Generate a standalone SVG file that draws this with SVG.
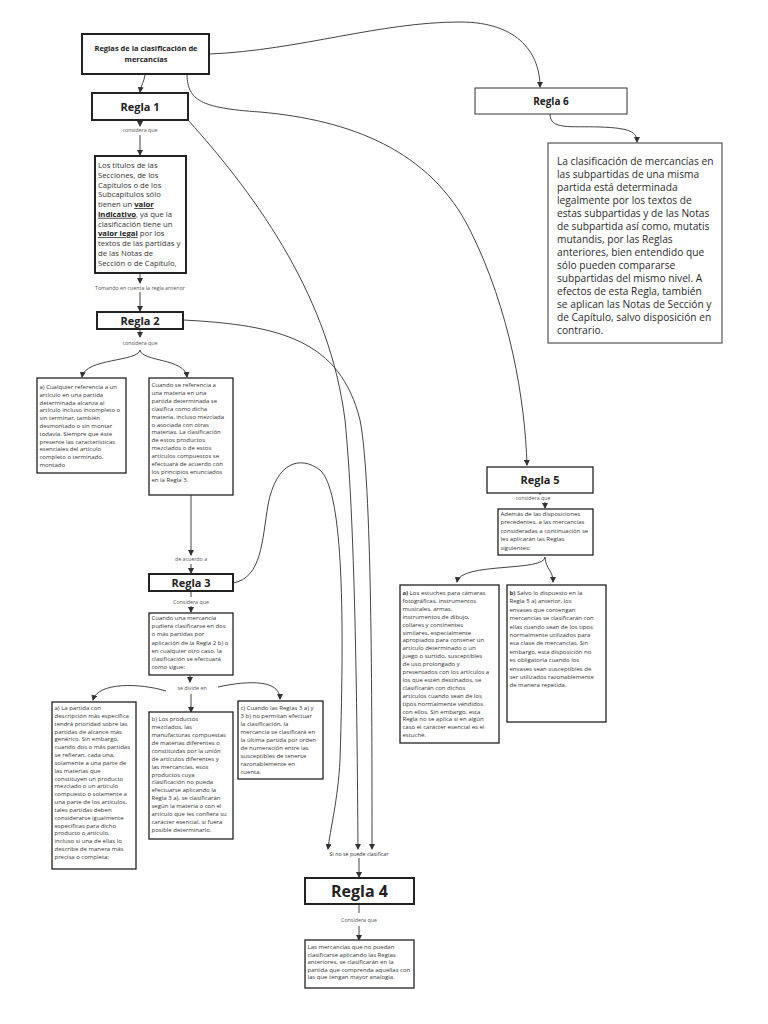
<svg xmlns="http://www.w3.org/2000/svg" width="768" height="1024" viewBox="0 0 768 1024">
<style>
.bg{fill:#fff}
.box{fill:#fff;stroke:#222;stroke-width:1.3}
.thick{stroke-width:2}
.thin{stroke:#333;stroke-width:1}
.t{font-family:"Open Sans","Noto Sans","DejaVu Sans",sans-serif;font-size:6px;fill:#333}
.m{font-size:7.7px}
.l{font-size:10.2px;fill:#2a2a2a}
.lbl{font-family:"Open Sans","Noto Sans","DejaVu Sans",sans-serif;font-size:5.3px;fill:#555;text-anchor:middle}
.rule{font-family:"Open Sans","Noto Sans","DejaVu Sans",sans-serif;font-weight:bold;text-anchor:middle;fill:#222}
.conn{fill:none;stroke:#444;stroke-width:1}
.b{font-weight:bold}
.u{font-weight:bold;text-decoration:underline;fill:#222}
</style>
<defs>
<marker id="ah" markerWidth="6" markerHeight="6" refX="5" refY="3" orient="auto" markerUnits="userSpaceOnUse">
<path d="M0,0 L6,3 L0,6 Z" fill="#333"/>
</marker>
</defs>
<rect class="bg" width="768" height="1024"/>

<g id="connectors">
<path class="conn" marker-end="url(#ah)" d="M145,75 C144,82 141,85 140,92"/>
<path class="conn" marker-end="url(#ah)" d="M210,54 C300,50 380,22 460,22 C520,22 540,55 540,87"/>
<path class="conn" marker-end="url(#ah)" d="M187,75 C188,100 200,108 260,112 C350,120 430,150 470,230 C510,310 525,400 527,465"/>
<path class="conn" marker-end="url(#ah)" d="M188,120 C260,200 330,300 345,420 C355,520 357,700 358,849"/>
<path class="conn" marker-end="url(#ah)" d="M183,320 C280,325 340,340 360,420 C372,480 372,700 372,849"/>
<path class="conn" marker-end="url(#ah)" d="M233,583 C262,578 262,540 268,505 C276,462 300,455 320,470 C342,490 345,600 340,760 C338,800 330,830 328,849"/>
<path class="conn" marker-end="url(#ah)" d="M550,114 C550,130 570,126 600,127 C630,128 637,132 637,142"/>
<path class="conn" marker-end="url(#ah)" d="M140,120 L140,126"/>
<path class="conn" marker-end="url(#ah)" d="M140,135 L140,155"/>
<path class="conn" marker-end="url(#ah)" d="M140,273 L140,283"/>
<path class="conn" marker-end="url(#ah)" d="M140,292 L140,311"/>
<path class="conn" marker-end="url(#ah)" d="M140,330 L140,337"/>
<path class="conn" marker-end="url(#ah)" d="M140,350 C138,362 85,358 82,377"/>
<path class="conn" marker-end="url(#ah)" d="M140,350 C142,362 185,358 187,377"/>
<path class="conn" marker-end="url(#ah)" d="M191,495 L191,555"/>
<path class="conn" marker-end="url(#ah)" d="M191,564 L191,573"/>
<path class="conn" d="M191,592 L191,597"/>
<path class="conn" marker-end="url(#ah)" d="M191,606 L191,612"/>
<path class="conn" marker-end="url(#ah)" d="M190,675 L190,682"/>
<path class="conn" marker-end="url(#ah)" d="M166,691 C140,683 98,682 93,700"/>
<path class="conn" marker-end="url(#ah)" d="M218,687 C250,680 280,680 280,699"/>
<path class="conn" marker-end="url(#ah)" d="M191,694 L191,712"/>
<path class="conn" marker-end="url(#ah)" d="M359,858 L359,877"/>
<path class="conn" d="M359,904 L359,913"/>
<path class="conn" marker-end="url(#ah)" d="M359,926 L359,940"/>
<path class="conn" d="M540,493 L540,495"/>
<path class="conn" marker-end="url(#ah)" d="M545,502 L545,508"/>
<path class="conn" marker-end="url(#ah)" d="M545,557 C545,572 460,562 457,582"/>
<path class="conn" marker-end="url(#ah)" d="M545,557 C546,570 553,570 553,582"/>
</g>

<g id="title">
<rect class="box thick" x="82" y="34" width="127" height="40"/>
<text class="rule" font-size="7.5" x="146" y="51">Reglas de la clasificación de</text>
<text class="rule" font-size="7.5" x="146" y="61.5">mercancías</text>
</g>

<g id="regla1">
<rect class="box thick" x="92" y="93" width="96" height="27"/>
<text class="rule" font-size="11" x="140" y="110.5">Regla 1</text>
<text class="lbl" x="140" y="132">considera que</text>
</g>

<g id="regla1-texto">
<rect class="box thick" x="95" y="156" width="91" height="117"/>
<text class="t m">
<tspan x="98" y="168">Los títulos de las</tspan>
<tspan x="98" y="177.8">Secciones, de los</tspan>
<tspan x="98" y="187.5">Capítulos o de los</tspan>
<tspan x="98" y="197.3">Subcapítulos sólo</tspan>
<tspan x="98" y="207">tienen un <tspan class="u">valor</tspan></tspan>
<tspan x="98" y="216.8"><tspan class="u">indicativo</tspan>, ya que la</tspan>
<tspan x="98" y="226.5">clasificación tiene un</tspan>
<tspan x="98" y="236.3"><tspan class="u">valor legal</tspan> por los</tspan>
<tspan x="98" y="246">textos de las partidas y</tspan>
<tspan x="98" y="255.8">de las Notas de</tspan>
<tspan x="98" y="265.5">Sección o de Capítulo,</tspan>
</text>
<text class="lbl" x="140" y="290">Tomando en cuenta la regla anterior</text>
</g>

<g id="regla2">
<rect class="box thick" x="97" y="312" width="86" height="17"/>
<text class="rule" font-size="11" x="140" y="324.5">Regla 2</text>
<text class="lbl" x="140" y="345">considera que</text>
</g>

<g id="regla2-a">
<rect class="box" x="37" y="378" width="89" height="95"/>
<text class="t">
<tspan x="39.5" y="389">a) Cualquier referencia a un</tspan>
<tspan x="39.5" y="396.8">artículo en una partida</tspan>
<tspan x="39.5" y="404.6">determinada alcanza al</tspan>
<tspan x="39.5" y="412.4">artículo incluso incompleto o</tspan>
<tspan x="39.5" y="420.2">sin terminar, también</tspan>
<tspan x="39.5" y="428">desmontado o sin montar</tspan>
<tspan x="39.5" y="435.8">todavía. Siempre que éste</tspan>
<tspan x="39.5" y="443.6">presente las características</tspan>
<tspan x="39.5" y="451.4">esenciales del artículo</tspan>
<tspan x="39.5" y="459.2">completo o terminado,</tspan>
<tspan x="39.5" y="467">montado</tspan>
</text>
</g>

<g id="regla2-b">
<rect class="box" x="149" y="378" width="84" height="117"/>
<text class="t">
<tspan x="151.5" y="387">Cuando se referencia a</tspan>
<tspan x="151.5" y="394.9">una materia en una</tspan>
<tspan x="151.5" y="402.8">partida determinada se</tspan>
<tspan x="151.5" y="410.7">clasifica como dicha</tspan>
<tspan x="151.5" y="418.6">materia, incluso mezclada</tspan>
<tspan x="151.5" y="426.5">o asociada con otras</tspan>
<tspan x="151.5" y="434.4">materias. La clasificación</tspan>
<tspan x="151.5" y="442.3">de estos productos</tspan>
<tspan x="151.5" y="450.2">mezclados o de estos</tspan>
<tspan x="151.5" y="458.1">artículos compuestos se</tspan>
<tspan x="151.5" y="466">efectuará de acuerdo con</tspan>
<tspan x="151.5" y="473.9">los principios enunciados</tspan>
<tspan x="151.5" y="481.8">en la Regla 3.</tspan>
</text>
<text class="lbl" x="191" y="561">de acuerdo a</text>
</g>

<g id="regla3">
<rect class="box thick" x="149" y="574" width="84" height="17"/>
<text class="rule" font-size="11" x="191" y="586.5">Regla 3</text>
<text class="lbl" x="191" y="604">Considera que</text>
</g>

<g id="regla3-texto">
<rect class="box" x="149" y="613" width="84" height="62"/>
<text class="t">
<tspan x="151.5" y="620">Cuando una mercancía</tspan>
<tspan x="151.5" y="628.2">pudiera clasificarse en dos</tspan>
<tspan x="151.5" y="636.4">o más partidas por</tspan>
<tspan x="151.5" y="644.6">aplicación de la Regla 2 b) o</tspan>
<tspan x="151.5" y="652.8">en cualquier otro caso, la</tspan>
<tspan x="151.5" y="661">clasificación se efectuará</tspan>
<tspan x="151.5" y="669.2">como sigue:</tspan>
</text>
<text class="lbl" x="192" y="690">se divide en</text>
</g>

<g id="regla3-a">
<rect class="box" x="52" y="702" width="84" height="167"/>
<text class="t">
<tspan x="54.5" y="710">a) La partida con</tspan>
<tspan x="54.5" y="717.8">descripción más específica</tspan>
<tspan x="54.5" y="725.7">tendrá prioridad sobre las</tspan>
<tspan x="54.5" y="733.5">partidas de alcance más</tspan>
<tspan x="54.5" y="741.4">genérico. Sin embargo,</tspan>
<tspan x="54.5" y="749.2">cuando dos o más partidas</tspan>
<tspan x="54.5" y="757">se refieran, cada una,</tspan>
<tspan x="54.5" y="764.9">solamente a una parte de</tspan>
<tspan x="54.5" y="772.7">las materias que</tspan>
<tspan x="54.5" y="780.6">constituyen un producto</tspan>
<tspan x="54.5" y="788.4">mezclado o un artículo</tspan>
<tspan x="54.5" y="796.2">compuesto o solamente a</tspan>
<tspan x="54.5" y="804.1">una parte de los artículos,</tspan>
<tspan x="54.5" y="811.9">tales partidas deben</tspan>
<tspan x="54.5" y="819.8">considerarse igualmente</tspan>
<tspan x="54.5" y="827.6">específicas para dicho</tspan>
<tspan x="54.5" y="835.4">producto o artículo,</tspan>
<tspan x="54.5" y="843.3">incluso si una de ellas lo</tspan>
<tspan x="54.5" y="851.1">describe de manera más</tspan>
<tspan x="54.5" y="859">precisa o completa;</tspan>
</text>
</g>

<g id="regla3-b">
<rect class="box" x="149" y="712" width="84" height="127"/>
<text class="t">
<tspan x="151.5" y="721">b) Los productos</tspan>
<tspan x="151.5" y="728.9">mezclados, las</tspan>
<tspan x="151.5" y="736.9">manufacturas compuestas</tspan>
<tspan x="151.5" y="744.8">de materias diferentes o</tspan>
<tspan x="151.5" y="752.7">constituidas por la unión</tspan>
<tspan x="151.5" y="760.7">de artículos diferentes y</tspan>
<tspan x="151.5" y="768.6">las mercancías, esos</tspan>
<tspan x="151.5" y="776.5">productos cuya</tspan>
<tspan x="151.5" y="784.4">clasificación no pueda</tspan>
<tspan x="151.5" y="792.4">efectuarse aplicando la</tspan>
<tspan x="151.5" y="800.3">Regla 3 a), se clasificarán</tspan>
<tspan x="151.5" y="808.2">según la materia o con el</tspan>
<tspan x="151.5" y="816.2">artículo que les confiera su</tspan>
<tspan x="151.5" y="824.1">carácter esencial, si fuera</tspan>
<tspan x="151.5" y="832">posible determinarlo.</tspan>
</text>
</g>

<g id="regla3-c">
<rect class="box" x="238" y="701" width="85" height="78"/>
<text class="t">
<tspan x="240.5" y="710">c) Cuando las Reglas 3 a) y</tspan>
<tspan x="240.5" y="718">3 b) no permitan efectuar</tspan>
<tspan x="240.5" y="726">la clasificación, la</tspan>
<tspan x="240.5" y="734">mercancía se clasificará en</tspan>
<tspan x="240.5" y="742">la última partida por orden</tspan>
<tspan x="240.5" y="750">de numeración entre las</tspan>
<tspan x="240.5" y="758">susceptibles de tenerse</tspan>
<tspan x="240.5" y="766">razonablemente en</tspan>
<tspan x="240.5" y="774">cuenta.</tspan>
</text>
</g>

<g id="regla4">
<text class="lbl" x="359" y="856" style="fill:#333">Si no se puede clasificar</text>
<rect class="box thick" x="305" y="878" width="109" height="26"/>
<text class="rule" font-size="16" x="359.5" y="897">Regla 4</text>
<text class="lbl" x="359" y="922">Considera que</text>
</g>

<g id="regla4-texto">
<rect class="box" x="305" y="940" width="109" height="48"/>
<text class="t">
<tspan x="307.5" y="949">Las mercancías que no puedan</tspan>
<tspan x="307.5" y="956.5">clasificarse aplicando las Reglas</tspan>
<tspan x="307.5" y="964">anteriores, se clasificarán en la</tspan>
<tspan x="307.5" y="971.5">partida que comprenda aquellas con</tspan>
<tspan x="307.5" y="979">las que tengan mayor analogía.</tspan>
</text>
</g>

<g id="regla5">
<rect class="box" x="487" y="467" width="106" height="26"/>
<text class="rule" font-size="11" x="540" y="484">Regla 5</text>
<text class="lbl" x="533" y="500">considera que</text>
</g>

<g id="regla5-texto">
<rect class="box" x="498" y="509" width="95" height="46"/>
<text class="t">
<tspan x="500.5" y="515.5">Además de las disposiciones</tspan>
<tspan x="500.5" y="524">precedentes, a las mercancías</tspan>
<tspan x="500.5" y="532.5">consideradas a continuación se</tspan>
<tspan x="500.5" y="541">les aplicarán las Reglas</tspan>
<tspan x="500.5" y="549.5">siguientes:</tspan>
</text>
</g>

<g id="regla5-a">
<rect class="box" x="400" y="585" width="99" height="158"/>
<text class="t">
<tspan x="402.5" y="595"><tspan class="b">a)</tspan> Los estuches para cámaras</tspan>
<tspan x="402.5" y="602.9">fotográficas, instrumentos</tspan>
<tspan x="402.5" y="610.8">musicales, armas,</tspan>
<tspan x="402.5" y="618.7">instrumentos de dibujo,</tspan>
<tspan x="402.5" y="626.6">collares y continentes</tspan>
<tspan x="402.5" y="634.5">similares, especialmente</tspan>
<tspan x="402.5" y="642.4">apropiados para contener un</tspan>
<tspan x="402.5" y="650.3">artículo determinado o un</tspan>
<tspan x="402.5" y="658.2">juego o surtido, susceptibles</tspan>
<tspan x="402.5" y="666.1">de uso prolongado y</tspan>
<tspan x="402.5" y="674">presentados con los artículos a</tspan>
<tspan x="402.5" y="681.9">los que estén destinados, se</tspan>
<tspan x="402.5" y="689.8">clasificarán con dichos</tspan>
<tspan x="402.5" y="697.7">artículos cuando sean de los</tspan>
<tspan x="402.5" y="705.6">tipos normalmente vendidos</tspan>
<tspan x="402.5" y="713.5">con ellos. Sin embargo, esta</tspan>
<tspan x="402.5" y="721.4">Regla no se aplica si en algún</tspan>
<tspan x="402.5" y="729.3">caso el carácter esencial es el</tspan>
<tspan x="402.5" y="737.2">estuché.</tspan>
</text>
</g>

<g id="regla5-b">
<rect class="box" x="507" y="585" width="99" height="137"/>
<text class="t">
<tspan x="509.5" y="595"><tspan class="b">b)</tspan> Salvo lo dispuesto en la</tspan>
<tspan x="509.5" y="603.4">Regla 5 a) anterior, los</tspan>
<tspan x="509.5" y="611.8">envases que contengan</tspan>
<tspan x="509.5" y="620.2">mercancías se clasificarán con</tspan>
<tspan x="509.5" y="628.6">ellas cuando sean de los tipos</tspan>
<tspan x="509.5" y="637">normalmente utilizados para</tspan>
<tspan x="509.5" y="645.4">esa clase de mercancías. Sin</tspan>
<tspan x="509.5" y="653.8">embargo, esta disposición no</tspan>
<tspan x="509.5" y="662.2">es obligatoria cuando los</tspan>
<tspan x="509.5" y="670.6">envases sean susceptibles de</tspan>
<tspan x="509.5" y="679">ser utilizados razonablemente</tspan>
<tspan x="509.5" y="687.4">de manera repetida.</tspan>
</text>
</g>

<g id="regla6">
<rect class="box thin" x="475" y="88" width="152" height="26"/>
<text class="rule" font-size="10" x="551" y="104.5">Regla 6</text>
</g>

<g id="regla6-texto">
<rect class="box thin" x="548" y="143" width="174" height="200"/>
<text class="t l">
<tspan x="557" y="164.5">La clasificación de mercancías en</tspan>
<tspan x="557" y="177.5">las subpartidas de una misma</tspan>
<tspan x="557" y="190.5">partida está determinada</tspan>
<tspan x="557" y="203.5">legalmente por los textos de</tspan>
<tspan x="557" y="216.5">estas subpartidas y de las Notas</tspan>
<tspan x="557" y="229.5">de subpartida así como, mutatis</tspan>
<tspan x="557" y="242.5">mutandis, por las Reglas</tspan>
<tspan x="557" y="255.5">anteriores, bien entendido que</tspan>
<tspan x="557" y="268.5">sólo pueden compararse</tspan>
<tspan x="557" y="281.5">subpartidas del mismo nivel. A</tspan>
<tspan x="557" y="294.5">efectos de esta Regla, también</tspan>
<tspan x="557" y="307.5">se aplican las Notas de Sección y</tspan>
<tspan x="557" y="320.5">de Capítulo, salvo disposición en</tspan>
<tspan x="557" y="333.5">contrario.</tspan>
</text>
</g>
</svg>
